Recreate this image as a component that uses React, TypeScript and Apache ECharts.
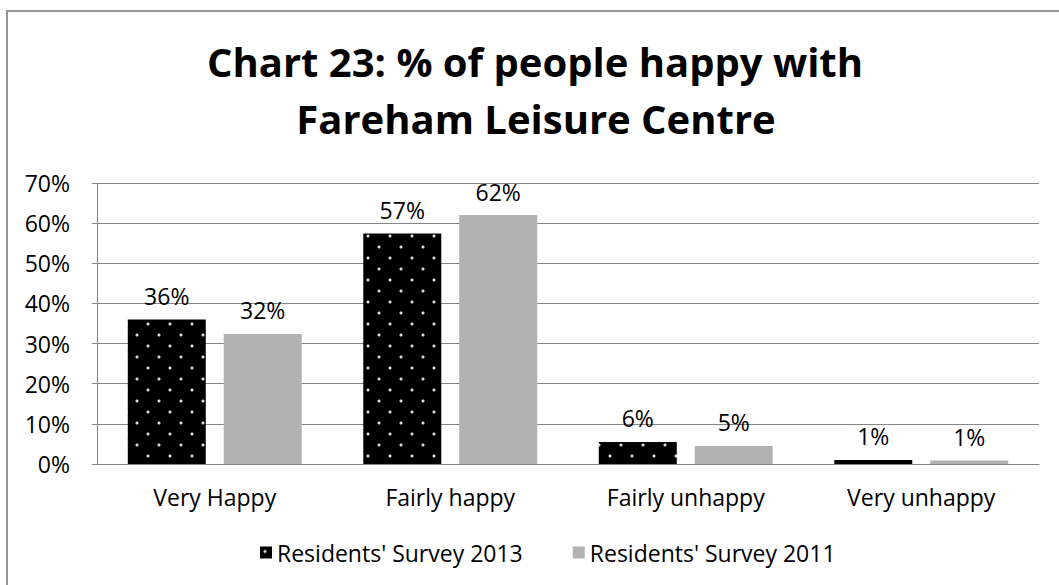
import React, { useEffect, useRef } from "react";
import * as echarts from "echarts";

const categories = ["Very Happy", "Fairly happy", "Fairly unhappy", "Very unhappy"];
const survey2013 = [36, 57.4, 5.5, 1.0];
const survey2011 = [32.4, 62, 4.5, 0.9];
const seriesNames = ["Residents' Survey 2013", "Residents' Survey 2011"];
const yTicks = [0, 10, 20, 30, 40, 50, 60, 70];
const titleLines = ["Chart 23: % of people happy with", "Fareham Leisure Centre"];

const FONT = "'Open Sans', Lato, sans-serif";
const FS = 23;

function makeDotPattern(): HTMLCanvasElement {
  const c = document.createElement("canvas");
  c.width = 22;
  c.height = 22;
  const ctx = c.getContext("2d")!;
  ctx.fillStyle = "#000000";
  ctx.fillRect(0, 0, 22, 22);
  const dot = (x: number, y: number) => {
    ctx.fillStyle = "#5a5a5a";
    ctx.fillRect(x - 1, y, 4, 2);
    ctx.fillRect(x, y - 1, 2, 4);
    ctx.fillStyle = "#dcdcdc";
    ctx.fillRect(x, y, 2, 2);
  };
  dot(4, 4);
  dot(15, 15);
  return c;
}

export default function App() {
  const ref = useRef<HTMLDivElement>(null);
  useEffect(() => {
    if (!ref.current) return;
    const chart = echarts.init(ref.current, null, { renderer: "svg" });
    const pattern = { image: makeDotPattern(), repeat: "repeat" } as any;
    const labelCfg = {
      show: true,
      position: "top" as const,
      distance: 12,
      color: "#000",
      fontFamily: FONT,
      fontSize: FS,
      formatter: (p: any) => Math.round(p.value) + "%",
    };
    chart.setOption({
      animation: false,
      backgroundColor: "#ffffff",
      textStyle: { fontFamily: FONT },
      graphic: [
        {
          type: "rect",
          shape: { x: 7, y: 11, width: 1200, height: 800 },
          style: { fill: "none", stroke: "#969696", lineWidth: 2 },
          silent: true,
          z: -1,
        },
        {
          type: "text",
          x: 535,
          y: 61,
          style: {
            text: titleLines[0],
            fontFamily: FONT,
            fontWeight: "bold",
            fontSize: 40,
            fill: "#000",
            align: "center",
            verticalAlign: "middle",
          },
        },
        {
          type: "text",
          x: 536,
          y: 118,
          style: {
            text: titleLines[1],
            fontFamily: FONT,
            fontWeight: "bold",
            fontSize: 40,
            fill: "#000",
            align: "center",
            verticalAlign: "middle",
          },
        },
      ],
      legend: {
        bottom: 16,
        left: 255,
        itemWidth: 12,
        itemHeight: 12,
        itemGap: 50,
        icon: "rect",
        textStyle: { fontFamily: FONT, fontSize: FS, color: "#000" },
        data: seriesNames,
      },
      grid: { left: 97, right: 20, top: 183, bottom: 121 },
      xAxis: {
        type: "category",
        data: categories,
        axisLine: { lineStyle: { color: "#868686", width: 1 } },
        axisTick: { show: false },
        axisLabel: { color: "#000", fontFamily: FONT, fontSize: FS, margin: 21 },
      },
      yAxis: {
        type: "value",
        min: yTicks[0],
        max: yTicks[yTicks.length - 1],
        interval: 10,
        axisLine: { show: true, lineStyle: { color: "#868686", width: 1 } },
        axisTick: { show: true, length: 5, lineStyle: { color: "#868686" } },
        splitLine: { lineStyle: { color: "#868686", width: 1 } },
        axisLabel: {
          color: "#000",
          fontFamily: FONT,
          fontSize: FS,
          margin: 27,
          formatter: (v: number) => v + "%",
        },
      },
      series: [
        {
          name: seriesNames[0],
          type: "bar",
          data: survey2013,
          barWidth: 78,
          barGap: "23%",
          itemStyle: { color: pattern },
          label: labelCfg,
        },
        {
          name: seriesNames[1],
          type: "bar",
          data: survey2011,
          barWidth: 78,
          itemStyle: { color: "#b2b2b2" },
          label: labelCfg,
        },
      ],
    });
    return () => chart.dispose();
  }, []);
  return (
    <div
      ref={ref}
      style={{ position: "fixed", left: 0, top: 0, width: 1059, height: 585 }}
    />
  );
}
